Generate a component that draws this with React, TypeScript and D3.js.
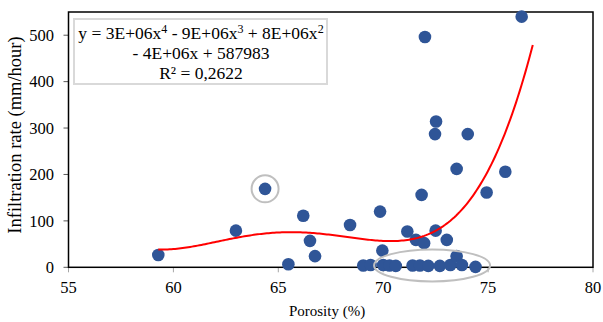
import React from "react";
import * as d3 from "d3";

const porosity = [59.28, 62.98, 64.37, 65.48, 66.19, 66.51, 66.75, 68.42, 69.85, 69.96, 71.15, 71.56, 71.95, 72.5, 73.03, 71.83, 74.93, 71.99, 76.6, 72.52, 72.47, 74.03, 73.5, 75.82,
  69.05, 69.4, 70.0, 70.3, 70.6, 71.4, 71.75, 72.15, 72.7, 73.2, 73.5, 73.75, 74.4];
const infiltration = [26.5, 79, 169, 6.5, 111, 57, 24, 91, 120, 36, 77, 59, 52, 79, 59, 156, 161, 496, 540, 314, 287, 287, 212, 206,
  4, 5, 5, 4, 3, 4, 4, 3, 3, 5, 24, 5, 1];

const trendX = [59.28, 61.27, 63.17, 65.56, 67.94, 69.53, 70.8, 71.91, 72.71, 73.5, 74.14, 74.77, 75.57, 76.36, 77.13];
const trendY = [39, 48, 62.5, 76.7, 69.6, 60.3, 57.3, 66, 80, 105.6, 147, 195, 267, 360.6, 475];

const xTicks = [55, 60, 65, 70, 75, 80];
const yTicks = [0, 100, 200, 300, 400, 500];

function polyFit(xs: number[], ys: number[], deg: number) {
  const mx = d3.mean(xs)!;
  const sx = (d3.max(xs)! - d3.min(xs)!) / 2;
  const n = deg + 1;
  const A = Array.from({ length: n }, () => new Array(n + 1).fill(0));
  xs.forEach((x0, k) => {
    const x = (x0 - mx) / sx;
    const pw = Array.from({ length: n }, (_, i) => Math.pow(x, i));
    for (let i = 0; i < n; i++) {
      for (let j = 0; j < n; j++) A[i][j] += pw[i] * pw[j];
      A[i][n] += pw[i] * ys[k];
    }
  });
  for (let i = 0; i < n; i++) {
    let p = i;
    for (let r = i + 1; r < n; r++) if (Math.abs(A[r][i]) > Math.abs(A[p][i])) p = r;
    [A[i], A[p]] = [A[p], A[i]];
    for (let r = 0; r < n; r++) {
      if (r === i) continue;
      const f = A[r][i] / A[i][i];
      for (let c = i; c <= n; c++) A[r][c] -= f * A[i][c];
    }
  }
  const coef = A.map((row, i) => row[n] / row[i]);
  return (x0: number) => {
    const x = (x0 - mx) / sx;
    return coef.reduce((s, c, i) => s + c * Math.pow(x, i), 0);
  };
}

export default function App() {
  const W = 603, H = 322;
  const left = 68.5, right = 593, top = 12, bottom = 267.3;
  const x = d3.scaleLinear().domain([55, 80]).range([left, right]);
  const y = d3.scaleLinear().domain([0, 550]).range([bottom, top]);
  const f = polyFit(trendX, trendY, 4);
  const x0 = d3.min(trendX)!, x1 = d3.max(trendX)!;
  const samples = d3.range(0, 201).map((i) => x0 + ((x1 - x0) * i) / 200);
  const line = d3.line<number>().x((d) => x(d)).y((d) => y(f(d)));
  const font = "'Liberation Serif', 'Times New Roman', serif";
  const blue = "#2F5597";

  return (
    <svg width={W} height={H} style={{ position: "absolute", left: 0, top: 0, background: "#fff" }} fontFamily={font}>
      <rect x={0} y={0} width={W} height={H} fill="#fff" />
      {/* ticks */}
      {yTicks.map((t) => (
        <g key={"y" + t}>
          <line x1={left - 5} x2={left} y1={y(t)} y2={y(t)} stroke="#595959" strokeWidth={1} />
          <text x={left - 14.5} y={y(t)} dy="0.35em" textAnchor="end" fontSize={16.5} fill="#000">{t}</text>
        </g>
      ))}
      {xTicks.map((t) => (
        <g key={"x" + t}>
          <line x1={x(t)} x2={x(t)} y1={bottom} y2={bottom + 5} stroke="#a6a6a6" strokeWidth={1} />
          <text x={x(t)} y={293} textAnchor="middle" fontSize={16.5} fill="#000">{t}</text>
        </g>
      ))}
      {/* frame */}
      <rect x={left} y={top} width={right - left} height={bottom - top} fill="none" stroke="#000" strokeWidth={1.5} />
      {/* points */}
      {porosity.map((p, i) => (
        <circle key={i} cx={x(p)} cy={y(infiltration[i])} r={6.3} fill={blue} />
      ))}
      {/* trendline */}
      <path d={line(samples)!} fill="none" stroke="#FF0000" strokeWidth={2} />
      {/* annotations */}
      <circle cx={x(64.37)} cy={y(169)} r={13.5} fill="none" stroke="#BFBFBF" strokeWidth={2} />
      <ellipse cx={x(72.33)} cy={y(4)} rx={58} ry={16} fill="none" stroke="#BFBFBF" strokeWidth={2} />
      {/* equation label */}
      <rect x={74} y={19} width={253} height={65} fill="#fff" stroke="#D9D9D9" strokeWidth={2} />
      <text x={201} y={39} textAnchor="middle" fontSize={17.5} fill="#000">
        y = 3E+06x<tspan dy={-6.5} fontSize={12}>4</tspan><tspan dy={6.5}> - 9E+06x</tspan><tspan dy={-6.5} fontSize={12}>3</tspan><tspan dy={6.5}> + 8E+06x</tspan><tspan dy={-6.5} fontSize={12}>2</tspan>
      </text>
      <text x={201} y={59} textAnchor="middle" fontSize={17.5} fill="#000">- 4E+06x + 587983</text>
      <text x={201} y={78.5} textAnchor="middle" fontSize={17.5} fill="#000">R² = 0,2622</text>
      {/* axis titles */}
      <text x={327} y={316} textAnchor="middle" fontSize={15} fill="#000">Porosity (%)</text>
      <text transform={`translate(20.5,${135}) rotate(-90)`} textAnchor="middle" fontSize={18.5} fill="#000">Infiltration rate (mm/hour)</text>
    </svg>
  );
}
